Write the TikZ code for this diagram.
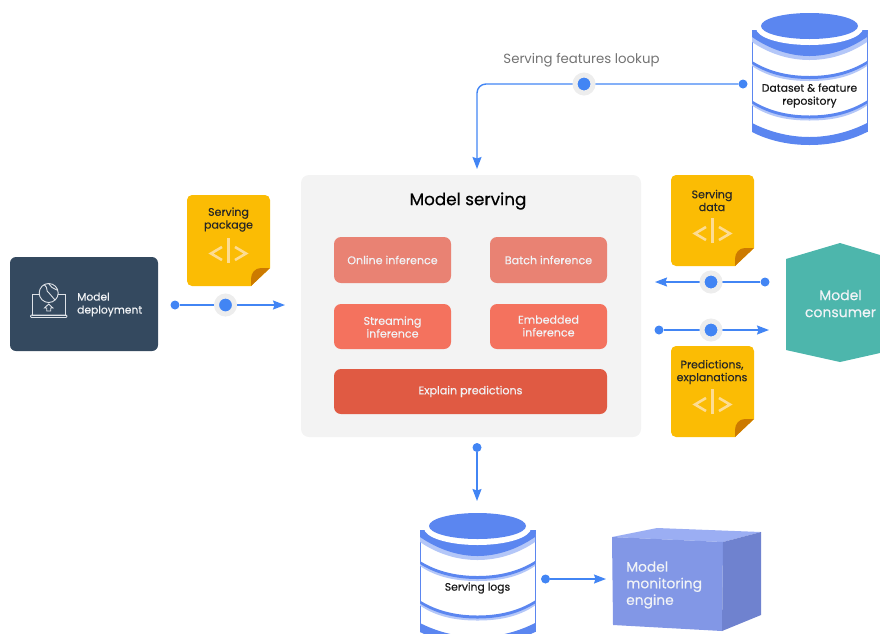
\documentclass[tikz,border=0pt]{standalone}
\usepackage{fontspec}
\setmainfont{Poppins}
\usetikzlibrary{arrows.meta}
\definecolor{linkblue}{HTML}{4285F4}
\definecolor{halo}{HTML}{EDEDED}
\definecolor{cylblue}{HTML}{5B86F0}
\definecolor{cyllight}{HTML}{B4C7F8}
\definecolor{docyellow}{HTML}{FBBC04}
\definecolor{docfold}{HTML}{CC7A00}
\definecolor{docicon}{HTML}{FDDC92}
\definecolor{navy}{HTML}{34495F}
\definecolor{panel}{HTML}{F3F3F3}
\definecolor{coralA}{HTML}{E98273}
\definecolor{coralB}{HTML}{F4725E}
\definecolor{coralC}{HTML}{E05A43}
\definecolor{teal}{HTML}{4DB6AC}
\definecolor{cubeF}{HTML}{8297E6}
\definecolor{cubeT}{HTML}{9BAEF3}
\definecolor{cubeR}{HTML}{6F82CF}
\definecolor{softwhite}{HTML}{F1F3F6}
\newfontfamily\heavier[FakeBold=0.25]{Poppins}
\tikzset{
  x=1pt,y=-1pt,
  enddot/.style={circle,fill=linkblue,inner sep=0pt,minimum size=9pt},
  middot/.style={circle,fill=linkblue,draw=halo,line width=5pt,inner sep=0pt,minimum size=18pt},
  link/.style={draw=linkblue,line width=1.4pt,-{Stealth[length=12pt,width=9pt,inset=1.5pt]}},
  card/.style={rounded corners=7pt,inner sep=0pt},
  cardlabel/.style={text=softwhite,align=center,font=\heavier\fontsize{11.1}{12.8}\selectfont},
  doclabel/.style={font=\heavier\fontsize{11}{12.8}\selectfont,align=center,text=black!85},
  cyllabel/.style={font=\heavier\fontsize{10.8}{13}\selectfont,align=center,text=black!90},
}
% yellow code sheet: #1 = left x, #2 = top y
\newcommand{\docsheet}[2]{%
  \begin{scope}[shift={(#1,#2)}]
    \fill[docyellow,rounded corners=5pt] (0,0) -- (83,0) -- (83,40) [sharp corners] -- (83,73) -- (64,91) [rounded corners=5pt] -- (0,91) -- cycle;
    \fill[docfold] (83,73) -- (64,91) -- (64,84) .. controls (64,78) and (68,73) .. (74,73) -- cycle;
    \draw[docicon,line width=2.6pt] (41.5,43) -- (41.5,68);
    \draw[docicon,line width=2.6pt] (35,52) -- (24,58.5) -- (35,65);
    \draw[docicon,line width=2.6pt] (48,52) -- (59,58.5) -- (48,65);
  \end{scope}}
% striped cylinder: #1 = centre x, #2 = y shift
\newcommand{\stripecyl}[2]{%
  \begin{scope}[shift={(#1,#2)}]
    \fill[white] (-57.5,30) rectangle (57.5,132);
    \draw[cylblue,line width=0.9pt] (-57.5,30) -- (-57.5,132) (57.5,30) -- (57.5,132);
    \fill[cyllight] (-57.5,34) -- (-57.5,42) .. controls (-40,54) and (-20,60) .. (0,60) .. controls (20,60) and (40,54) .. (57.5,42) -- (57.5,34) -- cycle;
    \fill[cylblue] (-57.5,30) -- (-57.5,37) .. controls (-40,49) and (-20,56) .. (0,56) .. controls (20,56) and (40,49) .. (57.5,37) -- (57.5,30) -- cycle;
    \fill[white] (0,28) ellipse [x radius=53.5pt,y radius=17pt];
    \fill[cylblue] (0,26) ellipse [x radius=48.5pt,y radius=13pt];
    \foreach \s in {0,39.5}{
      \fill[cyllight] (-57.5,62+\s) .. controls (-40,74+\s) and (-20,78+\s) .. (0,78+\s) .. controls (20,78+\s) and (40,74+\s) .. (57.5,62+\s) -- (57.5,66+\s) .. controls (40,78+\s) and (20,81+\s) .. (0,81+\s) .. controls (-20,81+\s) and (-40,78+\s) .. (-57.5,66+\s) -- cycle;
      \fill[cylblue] (-57.5,61+\s) .. controls (-40,72+\s) and (-20,76+\s) .. (0,76+\s) .. controls (20,76+\s) and (40,72+\s) .. (57.5,61+\s) -- (57.5,64+\s) .. controls (40,75+\s) and (20,79+\s) .. (0,79+\s) .. controls (-20,79+\s) and (-40,75+\s) .. (-57.5,64+\s) -- cycle;
    }
    \fill[cylblue] (-57.5,123) .. controls (-40,132) and (-20,137) .. (0,137) .. controls (20,137) and (40,132) .. (57.5,123) -- (57.5,132) .. controls (40,141) and (20,145) .. (0,145) .. controls (-20,145) and (-40,141) .. (-57.5,132) -- cycle;
  \end{scope}}
\begin{document}
\begin{tikzpicture}
\useasboundingbox (0,0) rectangle (880,633);
\clip (0,0) rectangle (880,633);

% model serving panel
\fill[panel,rounded corners=8pt] (301,175) rectangle (641,437);
\node[font=\heavier\fontsize{16.8}{20}\selectfont,text=black] (title) at (468,201) {\addfontfeature{FakeBold=0.5}Model serving};
\node[card,fill=coralA,minimum width=117pt,minimum height=46pt] (online) at (392.5,260) {};
\node[cardlabel] at (online.center) {Online inference};
\node[card,fill=coralA,minimum width=117pt,minimum height=46pt] (batch) at (548.5,260) {};
\node[cardlabel] at (batch.center) {Batch inference};
\node[card,fill=coralB,minimum width=117pt,minimum height=45pt] (stream) at (392.5,326.5) {};
\node[cardlabel] at (392.5,327) {Streaming\\inference};
\node[card,fill=coralB,minimum width=117pt,minimum height=45pt] (embed) at (548.5,326.5) {};
\node[cardlabel] at (548.5,326) {Embedded\\inference};
\node[card,fill=coralC,minimum width=273pt,minimum height=45pt] (explain) at (470.5,391.5) {};
\node[cardlabel] at (470.5,391.5) {Explain predictions};

% model deployment
\node[card,fill=navy,rounded corners=6pt,minimum width=148pt,minimum height=94pt] (deploy) at (84,304) {};
\node[anchor=west,font=\heavier\fontsize{10.7}{13}\selectfont,align=left,text=softwhite,inner sep=0pt] (deploytext) at (77,304.5) {Model\\deployment};
\begin{scope}[draw=softwhite!90!navy,line width=0.9pt]
  \draw (39,294) -- (32,294) -- (32,315) -- (65,315) -- (65,294) -- (58,294);
  \draw[rounded corners=1pt] (30.5,315) -- (67,315) -- (67,317.5) -- (30.5,317.5) -- cycle;
  \draw (48.7,293) circle [radius=9.5pt];
  \draw (44,284.5) .. controls (49,288) and (45,291) .. (49,293) .. controls (52,295) and (52,298) .. (55,300);
  \draw (49,284) .. controls (50,287) and (53,288) .. (57,290);
  \draw (48.7,304) -- (44.5,308) -- (46.7,308) -- (46.7,311) -- (50.7,311) -- (50.7,308) -- (52.9,308) -- cycle;
\end{scope}

% code sheets
\docsheet{187}{195}
\node[doclabel] (pkg) at (228.5,219.5) {Serving\\package};
\docsheet{671}{175}
\node[doclabel] (sdata) at (712,200.5) {Serving\\data};
\docsheet{671}{346}
\node[doclabel] (pred) at (712,372) {Predictions,\\explanations};

% model consumer
\fill[teal] (840,243) -- (786,259) -- (786,350) -- (840,362) -- (880,353) -- (880,255) -- cycle;
\node[font=\heavier\fontsize{14}{17}\selectfont,align=center,text=softwhite] (consumer) at (840.5,303.5) {Model\\consumer};

% cylinders
\stripecyl{809.5}{0}
\node[cyllabel] (repo) at (809.5,95.5) {Dataset \& feature\\repository};
\stripecyl{477.5}{500}
\node[cyllabel] (logs) at (477.5,588) {Serving logs};

% monitoring cube
\fill[cubeT] (612,537) -- (657,528) -- (761,532) -- (723,542) -- cycle;
\fill[cubeF] (612,537) -- (723,542) -- (722,631) -- (613,625) -- cycle;
\fill[cubeR] (723,542) -- (761,532) -- (761,615) -- (722,631) -- cycle;
\node[anchor=west,font=\heavier\fontsize{13.8}{16.6}\selectfont,align=left,text=softwhite,inner sep=0pt] (engine) at (626,585) {Model\\monitoring\\engine};

% connectors
\node[font=\fontsize{13.3}{15}\selectfont,text=black!55] (lookup) at (581.5,60) {Serving features lookup};

\node[enddot] (a1) at (175,305) {};
\coordinate (a2) at (285,305);
\draw[link] (a1) -- (a2);
\node[middot] at (225.5,305) (a3) {};

\node[enddot] (b1) at (743,84) {};
\coordinate (b2) at (477,169);
\draw[link,rounded corners=9pt] (b1) -| (b2);
\node[middot] at (584,84) (b3) {};

\node[enddot] (c1) at (765,282) {};
\coordinate (c2) at (655,282);
\draw[link] (c1) -- (c2);
\node[middot] at (711,282) (c3) {};

\node[enddot] (d1) at (659,330) {};
\coordinate (d2) at (769,330);
\draw[link] (d1) -- (d2);
\node[middot] at (711,330) (d3) {};

\node[enddot] (e1) at (477,447.5) {};
\coordinate (e2) at (477,501);
\draw[link] (e1) -- (e2);

\node[enddot] (f1) at (545.5,579) {};
\coordinate (f2) at (606,579);
\draw[link] (f1) -- (f2);
\end{tikzpicture}
\end{document}
